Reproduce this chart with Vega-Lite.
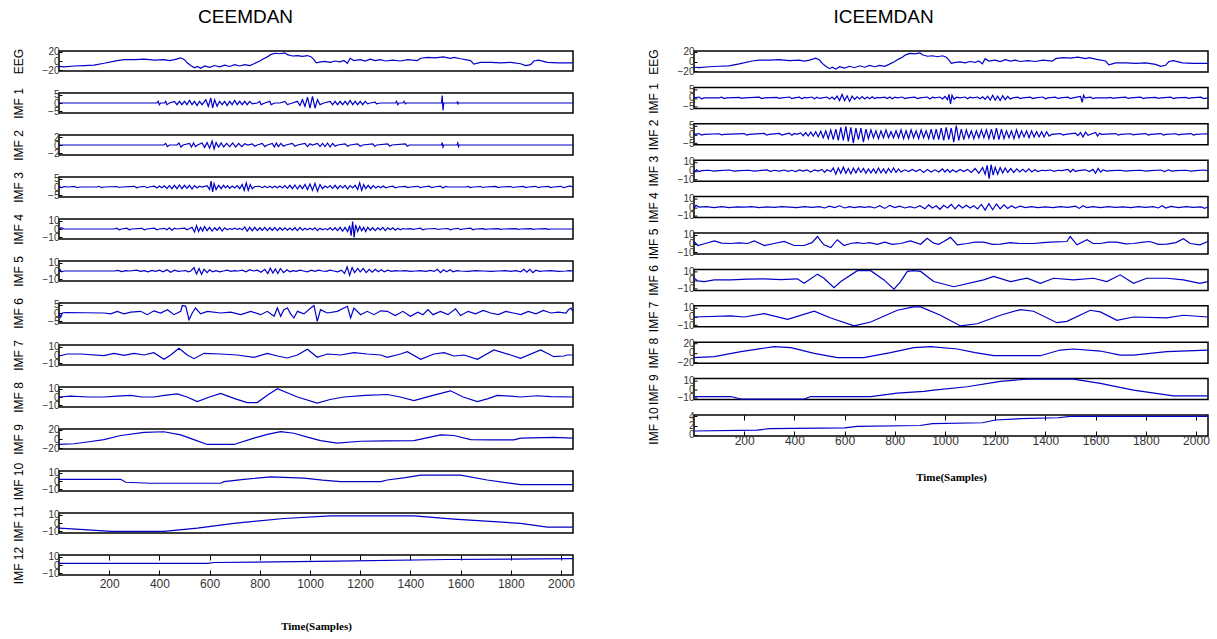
{
"$schema": "https://vega.github.io/schema/vega-lite/v6.json",
"background": "white",
"padding": {"left": 11, "top": 8, "right": 5, "bottom": 5},
"config": {
  "view": {"stroke": "#000", "strokeWidth": 1.5, "continuousWidth": 514},
  "line": {"color": "#0000c8", "strokeWidth": 1.2},
  "axisY": {"labelFont": "Liberation Sans", "labelFontSize": 10, "labelColor": "#333", "labelOverlap": false, "labelFlush": false, "tickSize": -3, "tickColor": "#000", "domain": false, "grid": false, "titleFont": "Liberation Sans", "titleFontSize": 12, "titleFontWeight": "normal", "titleColor": "#000", "minExtent": 20, "maxExtent": 20, "titlePadding": 14, "labelPadding": 3},
  "axisX": {"labelFont": "Liberation Sans", "labelFontSize": 12, "labelColor": "#333", "labelOverlap": false, "labelFlush": false, "tickColor": "#000", "domain": false, "grid": false, "format": "d", "titleFont": "Liberation Serif", "titleFontSize": 11, "titleFontWeight": "bold", "titleColor": "#000"},
  "title": {"font": "Liberation Sans", "fontSize": 19, "fontWeight": "normal", "color": "#000"}
},
"datasets": {
"EEG": [{"x":0,"y":-12},{"x":20,"y":-13},{"x":60,"y":-11},{"x":100,"y":-10},{"x":139,"y":-9},{"x":180,"y":-5},{"x":232,"y":1},{"x":260,"y":3},{"x":300,"y":3},{"x":340,"y":4},{"x":380,"y":2},{"x":418,"y":3},{"x":440,"y":1},{"x":460,"y":3},{"x":485,"y":7},{"x":500,"y":3},{"x":511,"y":-4},{"x":525,"y":-10},{"x":540,"y":-15},{"x":551,"y":-12},{"x":565,"y":-16},{"x":580,"y":-11},{"x":600,"y":-14},{"x":620,"y":-10},{"x":640,"y":-13},{"x":660,"y":-9},{"x":680,"y":-12},{"x":700,"y":-8},{"x":720,"y":-11},{"x":740,"y":-8},{"x":760,"y":-10},{"x":777,"y":-6},{"x":800,"y":0},{"x":815,"y":5},{"x":830,"y":9},{"x":843,"y":14},{"x":860,"y":17},{"x":880,"y":16},{"x":900,"y":18},{"x":910,"y":14},{"x":930,"y":11},{"x":950,"y":12},{"x":970,"y":10},{"x":990,"y":12},{"x":1005,"y":9},{"x":1016,"y":3},{"x":1025,"y":-4},{"x":1042,"y":-2},{"x":1060,"y":-1},{"x":1080,"y":-3},{"x":1100,"y":0},{"x":1120,"y":-2},{"x":1135,"y":1},{"x":1149,"y":-5},{"x":1160,"y":6},{"x":1175,"y":1},{"x":1200,"y":3},{"x":1220,"y":0},{"x":1240,"y":4},{"x":1260,"y":1},{"x":1280,"y":3},{"x":1300,"y":0},{"x":1330,"y":2},{"x":1360,"y":0},{"x":1390,"y":3},{"x":1428,"y":1},{"x":1441,"y":6},{"x":1470,"y":8},{"x":1500,"y":7},{"x":1530,"y":9},{"x":1560,"y":6},{"x":1574,"y":8},{"x":1600,"y":5},{"x":1640,"y":1},{"x":1653,"y":-7},{"x":1680,"y":-3},{"x":1720,"y":-3},{"x":1760,"y":-4},{"x":1800,"y":-3},{"x":1839,"y":-6},{"x":1860,"y":-10},{"x":1879,"y":-8},{"x":1892,"y":0},{"x":1910,"y":2},{"x":1946,"y":-3},{"x":1990,"y":-4},{"x":2047,"y":-4}],
"L1": [{"x":0,"y":0},{"x":390,"y":0},{"x":395,"y":1},{"x":400,"y":-1},{"x":405,"y":0},{"x":420,"y":0},{"x":425,"y":1},{"x":430,"y":-1},{"x":440,"y":0},{"x":460,"y":1},{"x":470,"y":-1},{"x":480,"y":1},{"x":490,"y":-1},{"x":500,"y":1},{"x":510,"y":-1},{"x":520,"y":1.5},{"x":530,"y":-1},{"x":540,"y":1},{"x":550,"y":-1.5},{"x":560,"y":1},{"x":570,"y":-1},{"x":585,"y":2},{"x":595,"y":-2},{"x":605,"y":3},{"x":612,"y":-3},{"x":620,"y":2},{"x":630,"y":-2},{"x":640,"y":1},{"x":650,"y":-1},{"x":660,"y":1},{"x":670,"y":-1.5},{"x":680,"y":1},{"x":690,"y":-1},{"x":700,"y":1.5},{"x":710,"y":-1},{"x":720,"y":1},{"x":730,"y":-1},{"x":740,"y":1},{"x":750,"y":-1},{"x":760,"y":1},{"x":770,"y":-0.5},{"x":790,"y":0},{"x":800,"y":1},{"x":805,"y":-1},{"x":820,"y":0},{"x":840,"y":1},{"x":845,"y":-1},{"x":860,"y":0},{"x":880,"y":0},{"x":900,"y":1},{"x":910,"y":-1},{"x":930,"y":0},{"x":950,"y":1},{"x":960,"y":-1.5},{"x":970,"y":2},{"x":980,"y":-2},{"x":990,"y":3.5},{"x":1000,"y":-3},{"x":1010,"y":4},{"x":1020,"y":-3},{"x":1030,"y":2},{"x":1040,"y":-1},{"x":1055,"y":0},{"x":1080,"y":1},{"x":1090,"y":-1},{"x":1100,"y":1},{"x":1110,"y":-1},{"x":1120,"y":1},{"x":1130,"y":-1},{"x":1140,"y":1},{"x":1150,"y":-1},{"x":1160,"y":1.5},{"x":1170,"y":-1},{"x":1180,"y":1},{"x":1190,"y":-1},{"x":1200,"y":1},{"x":1210,"y":-1},{"x":1220,"y":1},{"x":1230,"y":-0.5},{"x":1240,"y":0},{"x":1260,"y":0.5},{"x":1265,"y":-0.5},{"x":1280,"y":0},{"x":1340,"y":0},{"x":1345,"y":1},{"x":1350,"y":-1},{"x":1355,"y":0},{"x":1370,"y":0},{"x":1375,"y":1},{"x":1380,"y":-0.5},{"x":1385,"y":0},{"x":1524,"y":0},{"x":1527,"y":4.5},{"x":1530,"y":-4.5},{"x":1533,"y":0},{"x":1586,"y":0},{"x":1588,"y":1},{"x":1590,"y":-0.5},{"x":1592,"y":0},{"x":2047,"y":0}],
"L2": [{"x":0,"y":0},{"x":418,"y":0},{"x":425,"y":0.4},{"x":432,"y":-0.4},{"x":440,"y":0},{"x":470,"y":0},{"x":478,"y":0.5},{"x":486,"y":-0.5},{"x":494,"y":0},{"x":520,"y":0.4},{"x":528,"y":-0.5},{"x":536,"y":0.5},{"x":544,"y":-0.4},{"x":552,"y":0},{"x":570,"y":0.5},{"x":580,"y":-0.6},{"x":590,"y":0.6},{"x":600,"y":-0.8},{"x":610,"y":1},{"x":618,"y":-1},{"x":626,"y":0.6},{"x":636,"y":-0.5},{"x":646,"y":0.5},{"x":656,"y":-0.5},{"x":668,"y":0.4},{"x":680,"y":-0.4},{"x":692,"y":0.5},{"x":704,"y":-0.5},{"x":716,"y":0.4},{"x":728,"y":-0.4},{"x":740,"y":0.3},{"x":752,"y":0},{"x":770,"y":0.3},{"x":780,"y":-0.3},{"x":790,"y":0},{"x":810,"y":0.4},{"x":820,"y":-0.4},{"x":830,"y":0},{"x":850,"y":0.4},{"x":858,"y":-0.5},{"x":866,"y":0.5},{"x":874,"y":-0.4},{"x":884,"y":0.4},{"x":894,"y":-0.3},{"x":904,"y":0},{"x":930,"y":0.4},{"x":940,"y":-0.3},{"x":950,"y":0},{"x":980,"y":0.4},{"x":990,"y":-0.4},{"x":1000,"y":0.3},{"x":1010,"y":0},{"x":1030,"y":0.4},{"x":1040,"y":-0.4},{"x":1050,"y":0.4},{"x":1060,"y":-0.4},{"x":1070,"y":0.5},{"x":1080,"y":-0.5},{"x":1090,"y":0.4},{"x":1100,"y":-0.3},{"x":1110,"y":0},{"x":1140,"y":0.3},{"x":1150,"y":-0.3},{"x":1160,"y":0},{"x":1190,"y":0.3},{"x":1200,"y":-0.3},{"x":1210,"y":0},{"x":1250,"y":0.3},{"x":1258,"y":-0.3},{"x":1266,"y":0},{"x":1310,"y":0.3},{"x":1318,"y":-0.3},{"x":1326,"y":0},{"x":1380,"y":0.3},{"x":1388,"y":-0.3},{"x":1396,"y":0},{"x":1524,"y":0},{"x":1527,"y":0.6},{"x":1530,"y":-0.5},{"x":1533,"y":0},{"x":1586,"y":0},{"x":1589,"y":0.5},{"x":1592,"y":-0.4},{"x":1595,"y":0},{"x":2047,"y":0}],
"L3": [{"x":0,"y":0.5},{"x":10,"y":-0.5},{"x":20,"y":0.3},{"x":40,"y":0},{"x":60,"y":0.4},{"x":70,"y":-0.3},{"x":90,"y":0},{"x":150,"y":0},{"x":160,"y":0.4},{"x":170,"y":-0.4},{"x":180,"y":0},{"x":230,"y":0.3},{"x":240,"y":-0.3},{"x":250,"y":0},{"x":300,"y":0.4},{"x":310,"y":-0.5},{"x":320,"y":0},{"x":340,"y":0.4},{"x":350,"y":-0.4},{"x":360,"y":0},{"x":380,"y":0.5},{"x":390,"y":-0.6},{"x":400,"y":0.6},{"x":410,"y":-0.5},{"x":420,"y":0.7},{"x":430,"y":-0.8},{"x":440,"y":0.8},{"x":450,"y":-1},{"x":460,"y":1},{"x":470,"y":-1},{"x":480,"y":1.2},{"x":490,"y":-1},{"x":500,"y":1},{"x":510,"y":-0.8},{"x":520,"y":1},{"x":530,"y":-1.2},{"x":540,"y":0.8},{"x":550,"y":-0.6},{"x":560,"y":0.5},{"x":570,"y":0},{"x":590,"y":0.8},{"x":600,"y":-1.5},{"x":606,"y":3.5},{"x":612,"y":-3},{"x":618,"y":2},{"x":626,"y":-1.5},{"x":636,"y":1},{"x":646,"y":-1},{"x":656,"y":1},{"x":664,"y":-0.5},{"x":672,"y":0.8},{"x":680,"y":-0.8},{"x":690,"y":0.6},{"x":700,"y":-0.6},{"x":710,"y":0.8},{"x":720,"y":-1},{"x":730,"y":1.5},{"x":738,"y":-2},{"x":746,"y":2.5},{"x":754,"y":-2},{"x":762,"y":1.5},{"x":770,"y":-1},{"x":780,"y":0.3},{"x":800,"y":0.4},{"x":810,"y":-0.4},{"x":820,"y":0.5},{"x":830,"y":-0.4},{"x":840,"y":0.5},{"x":850,"y":-0.5},{"x":860,"y":0.5},{"x":870,"y":-0.5},{"x":880,"y":0.6},{"x":890,"y":-0.6},{"x":900,"y":0.8},{"x":910,"y":-0.8},{"x":920,"y":1},{"x":930,"y":-1},{"x":940,"y":1.2},{"x":950,"y":-1.2},{"x":960,"y":1},{"x":970,"y":-1},{"x":980,"y":1.5},{"x":990,"y":-1.5},{"x":1000,"y":1.8},{"x":1010,"y":-2},{"x":1020,"y":2.2},{"x":1030,"y":-2.5},{"x":1040,"y":1.5},{"x":1050,"y":-1},{"x":1060,"y":0.6},{"x":1070,"y":-0.5},{"x":1080,"y":0.8},{"x":1090,"y":-0.8},{"x":1100,"y":1},{"x":1110,"y":-1},{"x":1120,"y":0.8},{"x":1130,"y":-0.6},{"x":1140,"y":1},{"x":1150,"y":-1.2},{"x":1160,"y":0.8},{"x":1170,"y":-0.5},{"x":1180,"y":1},{"x":1190,"y":-1.5},{"x":1198,"y":2.5},{"x":1206,"y":-2},{"x":1214,"y":1.5},{"x":1222,"y":-1},{"x":1232,"y":1},{"x":1242,"y":-1},{"x":1252,"y":0.8},{"x":1262,"y":-0.6},{"x":1272,"y":0.5},{"x":1282,"y":-0.5},{"x":1292,"y":0.6},{"x":1302,"y":-0.5},{"x":1312,"y":0},{"x":1330,"y":0.5},{"x":1340,"y":-0.5},{"x":1350,"y":0},{"x":1380,"y":0.4},{"x":1390,"y":-0.3},{"x":1400,"y":0},{"x":1430,"y":0.4},{"x":1440,"y":-0.4},{"x":1450,"y":0},{"x":1475,"y":0.5},{"x":1485,"y":-0.4},{"x":1495,"y":0},{"x":1520,"y":0.5},{"x":1530,"y":-0.6},{"x":1540,"y":0.4},{"x":1550,"y":0},{"x":1620,"y":0},{"x":1630,"y":0.4},{"x":1640,"y":-0.3},{"x":1650,"y":0},{"x":1680,"y":0.3},{"x":1690,"y":-0.3},{"x":1700,"y":0},{"x":1740,"y":0.4},{"x":1750,"y":-0.3},{"x":1760,"y":0},{"x":1800,"y":0.3},{"x":1810,"y":-0.3},{"x":1820,"y":0},{"x":1850,"y":0.4},{"x":1860,"y":-0.3},{"x":1870,"y":0},{"x":1900,"y":0.4},{"x":1910,"y":-0.4},{"x":1920,"y":0},{"x":1950,"y":0.4},{"x":1960,"y":-0.3},{"x":1970,"y":0},{"x":2000,"y":0.4},{"x":2010,"y":-0.4},{"x":2020,"y":0},{"x":2035,"y":0.6},{"x":2047,"y":0}],
"L4": [{"x":0,"y":0},{"x":10,"y":1.5},{"x":20,"y":0},{"x":220,"y":0},{"x":230,"y":1},{"x":240,"y":-1},{"x":250,"y":0},{"x":270,"y":1},{"x":280,"y":-1},{"x":290,"y":0},{"x":330,"y":0.8},{"x":340,"y":-1},{"x":350,"y":0},{"x":380,"y":1},{"x":390,"y":-1},{"x":400,"y":0},{"x":420,"y":0.8},{"x":430,"y":-0.8},{"x":440,"y":1.5},{"x":450,"y":-1.5},{"x":460,"y":1},{"x":470,"y":0},{"x":500,"y":1},{"x":510,"y":-1},{"x":520,"y":0.5},{"x":530,"y":2},{"x":540,"y":-3.5},{"x":548,"y":4},{"x":556,"y":-3},{"x":564,"y":2},{"x":572,"y":-2.5},{"x":580,"y":3},{"x":590,"y":-2},{"x":600,"y":2},{"x":610,"y":-2.5},{"x":620,"y":1.5},{"x":630,"y":-1.5},{"x":640,"y":2},{"x":650,"y":-2.5},{"x":660,"y":1.5},{"x":670,"y":-1},{"x":680,"y":0.5},{"x":690,"y":-0.5},{"x":700,"y":1},{"x":710,"y":-0.5},{"x":720,"y":0.8},{"x":730,"y":-0.8},{"x":740,"y":2.5},{"x":750,"y":-2.5},{"x":760,"y":2},{"x":770,"y":-2},{"x":780,"y":2},{"x":790,"y":-2},{"x":800,"y":1.5},{"x":810,"y":-1.5},{"x":820,"y":2},{"x":830,"y":-2},{"x":840,"y":1.5},{"x":850,"y":-1.5},{"x":860,"y":2},{"x":870,"y":-2},{"x":880,"y":1.5},{"x":890,"y":-1.5},{"x":900,"y":1.5},{"x":910,"y":-1.5},{"x":920,"y":1.2},{"x":930,"y":-1.5},{"x":940,"y":1.5},{"x":950,"y":-2},{"x":960,"y":2},{"x":970,"y":-1.5},{"x":980,"y":1},{"x":990,"y":-1},{"x":1000,"y":1},{"x":1010,"y":-1},{"x":1020,"y":1.5},{"x":1030,"y":-2},{"x":1040,"y":1},{"x":1050,"y":-1},{"x":1060,"y":0.5},{"x":1070,"y":-1},{"x":1080,"y":1.5},{"x":1090,"y":-1.5},{"x":1100,"y":1.5},{"x":1110,"y":-2},{"x":1120,"y":2},{"x":1130,"y":-2.5},{"x":1140,"y":2},{"x":1150,"y":-3},{"x":1158,"y":4},{"x":1164,"y":-8},{"x":1170,"y":9},{"x":1176,"y":-10},{"x":1182,"y":5},{"x":1190,"y":-3},{"x":1198,"y":3},{"x":1206,"y":-2},{"x":1214,"y":2},{"x":1222,"y":-3},{"x":1230,"y":2},{"x":1240,"y":-1.5},{"x":1250,"y":1.5},{"x":1260,"y":-2},{"x":1270,"y":1.5},{"x":1280,"y":-1},{"x":1290,"y":2},{"x":1300,"y":-2},{"x":1310,"y":1.5},{"x":1320,"y":-1},{"x":1330,"y":1.5},{"x":1340,"y":-1.5},{"x":1350,"y":1},{"x":1360,"y":-1},{"x":1370,"y":0.5},{"x":1380,"y":0},{"x":1400,"y":0.5},{"x":1410,"y":-0.5},{"x":1420,"y":0},{"x":1440,"y":1},{"x":1450,"y":-1},{"x":1460,"y":0},{"x":1500,"y":0.6},{"x":1510,"y":-0.6},{"x":1520,"y":0},{"x":1550,"y":0.6},{"x":1560,"y":-1},{"x":1570,"y":0},{"x":1590,"y":0.8},{"x":1600,"y":-0.8},{"x":1610,"y":0},{"x":1640,"y":1},{"x":1650,"y":-1},{"x":1660,"y":0},{"x":1690,"y":0.5},{"x":1700,"y":-0.5},{"x":1710,"y":0},{"x":1750,"y":0.5},{"x":1760,"y":-0.5},{"x":1770,"y":0},{"x":1820,"y":0.5},{"x":1830,"y":-0.5},{"x":1840,"y":0},{"x":1880,"y":0.5},{"x":1890,"y":-0.5},{"x":1900,"y":0},{"x":1940,"y":0.5},{"x":1950,"y":-0.5},{"x":1960,"y":0},{"x":2047,"y":0}],
"L5": [{"x":0,"y":0},{"x":5,"y":1.5},{"x":10,"y":-1},{"x":20,"y":0},{"x":220,"y":0},{"x":235,"y":0.8},{"x":250,"y":-0.8},{"x":265,"y":0.5},{"x":280,"y":0},{"x":310,"y":1},{"x":325,"y":-0.5},{"x":340,"y":0.5},{"x":355,"y":-1},{"x":370,"y":0.8},{"x":385,"y":-0.5},{"x":400,"y":1},{"x":415,"y":-1},{"x":430,"y":1.5},{"x":445,"y":-1.5},{"x":460,"y":1},{"x":475,"y":-0.5},{"x":490,"y":0},{"x":505,"y":0.5},{"x":515,"y":-1},{"x":525,"y":0},{"x":538,"y":4},{"x":548,"y":-3.5},{"x":558,"y":3},{"x":568,"y":-4},{"x":578,"y":2},{"x":590,"y":-2},{"x":600,"y":1.5},{"x":612,"y":-1},{"x":625,"y":0.5},{"x":640,"y":-1},{"x":655,"y":0},{"x":670,"y":1},{"x":685,"y":-0.5},{"x":700,"y":0.5},{"x":715,"y":0},{"x":730,"y":1},{"x":745,"y":-1},{"x":760,"y":1.5},{"x":775,"y":0},{"x":790,"y":1},{"x":805,"y":-1.5},{"x":820,"y":2},{"x":832,"y":-3},{"x":842,"y":3.5},{"x":852,"y":-2.5},{"x":862,"y":2.5},{"x":872,"y":-3},{"x":882,"y":3},{"x":895,"y":-2},{"x":908,"y":1.5},{"x":920,"y":-1},{"x":932,"y":0.5},{"x":945,"y":-0.5},{"x":960,"y":1},{"x":975,"y":0},{"x":990,"y":-1},{"x":1005,"y":1},{"x":1020,"y":-0.5},{"x":1035,"y":1},{"x":1050,"y":0},{"x":1065,"y":-0.5},{"x":1080,"y":1},{"x":1095,"y":0},{"x":1110,"y":-1},{"x":1125,"y":1},{"x":1138,"y":-3},{"x":1148,"y":5},{"x":1158,"y":-5},{"x":1168,"y":4},{"x":1178,"y":-2},{"x":1190,"y":3},{"x":1200,"y":-1},{"x":1212,"y":3},{"x":1224,"y":-2},{"x":1236,"y":2},{"x":1248,"y":-1.5},{"x":1260,"y":2},{"x":1272,"y":-1},{"x":1284,"y":1.5},{"x":1296,"y":-1},{"x":1310,"y":1},{"x":1325,"y":-0.5},{"x":1340,"y":0.5},{"x":1360,"y":0},{"x":1380,"y":0.5},{"x":1400,"y":-0.5},{"x":1420,"y":0},{"x":1440,"y":0.5},{"x":1460,"y":-0.5},{"x":1480,"y":0.8},{"x":1495,"y":-0.5},{"x":1508,"y":2},{"x":1520,"y":-2},{"x":1532,"y":1.5},{"x":1545,"y":-1},{"x":1558,"y":1.5},{"x":1570,"y":-1},{"x":1585,"y":0.5},{"x":1600,"y":0},{"x":1630,"y":-0.5},{"x":1660,"y":0.5},{"x":1690,"y":0},{"x":1720,"y":-0.5},{"x":1750,"y":0},{"x":1780,"y":0.5},{"x":1800,"y":-0.5},{"x":1820,"y":0.5},{"x":1840,"y":-1},{"x":1852,"y":2},{"x":1864,"y":-1.5},{"x":1876,"y":2},{"x":1888,"y":-2},{"x":1900,"y":1},{"x":1915,"y":-0.5},{"x":1930,"y":0},{"x":1960,"y":0.5},{"x":1990,"y":-0.5},{"x":2020,"y":0},{"x":2035,"y":0.5},{"x":2047,"y":0}],
"L6": [{"x":0,"y":0},{"x":7,"y":-2.5},{"x":13,"y":0},{"x":27,"y":0.3},{"x":179,"y":0},{"x":206,"y":-0.5},{"x":232,"y":1},{"x":259,"y":-0.5},{"x":286,"y":0.5},{"x":325,"y":1},{"x":352,"y":-1},{"x":378,"y":1.3},{"x":405,"y":0},{"x":432,"y":2},{"x":458,"y":-1},{"x":485,"y":1},{"x":491,"y":4.5},{"x":505,"y":4},{"x":518,"y":-4},{"x":531,"y":0},{"x":544,"y":3},{"x":564,"y":-0.5},{"x":591,"y":1},{"x":644,"y":0},{"x":684,"y":0.5},{"x":724,"y":-1},{"x":764,"y":1},{"x":803,"y":-1},{"x":830,"y":1},{"x":857,"y":-2},{"x":870,"y":3},{"x":883,"y":-2},{"x":896,"y":2},{"x":910,"y":3},{"x":923,"y":-0.5},{"x":936,"y":-3},{"x":950,"y":1},{"x":976,"y":-0.5},{"x":1003,"y":3},{"x":1016,"y":4.5},{"x":1029,"y":-5},{"x":1042,"y":2},{"x":1069,"y":0},{"x":1109,"y":1},{"x":1149,"y":4},{"x":1162,"y":-3},{"x":1175,"y":3},{"x":1202,"y":-1},{"x":1228,"y":1},{"x":1255,"y":-1},{"x":1282,"y":1.3},{"x":1308,"y":1},{"x":1340,"y":-1.5},{"x":1370,"y":1},{"x":1400,"y":-2},{"x":1430,"y":0.5},{"x":1450,"y":-1},{"x":1470,"y":2},{"x":1490,"y":-1},{"x":1520,"y":1},{"x":1550,"y":-1},{"x":1580,"y":2.5},{"x":1600,"y":-1.5},{"x":1630,"y":1},{"x":1660,"y":-0.5},{"x":1690,"y":1.5},{"x":1720,"y":0},{"x":1750,"y":-1},{"x":1780,"y":1},{"x":1810,"y":0},{"x":1840,"y":-1},{"x":1870,"y":1},{"x":1900,"y":-0.5},{"x":1930,"y":1.5},{"x":1960,"y":0},{"x":1990,"y":0.5},{"x":2020,"y":0},{"x":2030,"y":2},{"x":2040,"y":3},{"x":2047,"y":1}],
"L7": [{"x":0,"y":-1.2},{"x":33,"y":1.2},{"x":86,"y":1.2},{"x":179,"y":-0.8},{"x":219,"y":2},{"x":259,"y":-0.4},{"x":299,"y":2},{"x":339,"y":0},{"x":378,"y":2.8},{"x":418,"y":-5.2},{"x":445,"y":0},{"x":478,"y":8},{"x":511,"y":0},{"x":538,"y":-4.4},{"x":578,"y":2},{"x":644,"y":1.2},{"x":710,"y":0},{"x":777,"y":-2.8},{"x":830,"y":2},{"x":870,"y":-1.2},{"x":910,"y":-3.6},{"x":950,"y":0},{"x":990,"y":6.8},{"x":1029,"y":-2.8},{"x":1069,"y":1.2},{"x":1122,"y":0},{"x":1175,"y":2.8},{"x":1228,"y":1.2},{"x":1282,"y":0},{"x":1308,"y":-2.8},{"x":1361,"y":1.2},{"x":1388,"y":4},{"x":1441,"y":-5.2},{"x":1494,"y":1.2},{"x":1534,"y":2.8},{"x":1574,"y":-1.2},{"x":1614,"y":0},{"x":1667,"y":-5.2},{"x":1733,"y":6},{"x":1800,"y":0},{"x":1839,"y":-4},{"x":1919,"y":6},{"x":1972,"y":-2},{"x":2012,"y":-1.2},{"x":2025,"y":0},{"x":2047,"y":0}],
"L8": [{"x":0,"y":0},{"x":46,"y":1},{"x":120,"y":0},{"x":179,"y":0},{"x":230,"y":1},{"x":286,"y":2},{"x":330,"y":0},{"x":378,"y":0},{"x":420,"y":2},{"x":471,"y":3.7},{"x":510,"y":0},{"x":551,"y":-5.5},{"x":600,"y":0},{"x":644,"y":4.4},{"x":700,"y":-2},{"x":750,"y":-6.7},{"x":790,"y":-6.7},{"x":830,"y":2},{"x":870,"y":10},{"x":950,"y":0},{"x":1029,"y":-7.4},{"x":1080,"y":-3},{"x":1135,"y":0},{"x":1220,"y":2},{"x":1308,"y":3},{"x":1360,"y":0},{"x":1414,"y":-4.4},{"x":1490,"y":2},{"x":1560,"y":7.4},{"x":1610,"y":0},{"x":1667,"y":-5.5},{"x":1710,"y":-2},{"x":1746,"y":2},{"x":1800,"y":1},{"x":1839,"y":0},{"x":1906,"y":1.5},{"x":1960,"y":0.5},{"x":2047,"y":0}],
"L9": [{"x":0,"y":-12},{"x":60,"y":-10.5},{"x":120,"y":-6},{"x":179,"y":-1.4},{"x":246,"y":7.7},{"x":339,"y":14.7},{"x":418,"y":16},{"x":485,"y":9},{"x":540,"y":-2},{"x":591,"y":-12},{"x":697,"y":-12},{"x":777,"y":2},{"x":830,"y":10},{"x":883,"y":16},{"x":936,"y":12.6},{"x":990,"y":4},{"x":1042,"y":-3.5},{"x":1109,"y":-9},{"x":1202,"y":-5},{"x":1300,"y":-4},{"x":1414,"y":-3.5},{"x":1470,"y":3},{"x":1521,"y":9},{"x":1574,"y":7.7},{"x":1640,"y":-1.4},{"x":1720,"y":-2},{"x":1813,"y":-2},{"x":1839,"y":2},{"x":1972,"y":3.5},{"x":2047,"y":2}],
"L10": [{"x":0,"y":2},{"x":246,"y":2},{"x":266,"y":-1.5},{"x":365,"y":-2.7},{"x":644,"y":-2.7},{"x":657,"y":-0.8},{"x":737,"y":1.9},{"x":843,"y":5},{"x":976,"y":3.5},{"x":1050,"y":1},{"x":1122,"y":-0.8},{"x":1282,"y":-0.8},{"x":1308,"y":1.2},{"x":1380,"y":4},{"x":1441,"y":7},{"x":1600,"y":7},{"x":1706,"y":1.2},{"x":1780,"y":-2},{"x":1839,"y":-4.3},{"x":2047,"y":-4.3}],
"L11": [{"x":0,"y":-6.2},{"x":100,"y":-8},{"x":206,"y":-10},{"x":418,"y":-10},{"x":551,"y":-6.2},{"x":697,"y":-0.4},{"x":896,"y":5.4},{"x":1082,"y":8.5},{"x":1414,"y":8.5},{"x":1574,"y":4.6},{"x":1839,"y":-0.4},{"x":1946,"y":-5},{"x":2047,"y":-5}],
"L12": [{"x":0,"y":2},{"x":591,"y":2},{"x":618,"y":3},{"x":1109,"y":4.6},{"x":1547,"y":6.6},{"x":2047,"y":7.7}],
"R1": [{"x":0,"y":0},{"x":20,"y":0.5},{"x":30,"y":-0.5},{"x":40,"y":0},{"x":100,"y":0},{"x":110,"y":0.4},{"x":120,"y":-0.4},{"x":130,"y":0},{"x":180,"y":0.3},{"x":190,"y":-0.3},{"x":200,"y":0},{"x":260,"y":0.4},{"x":270,"y":-0.4},{"x":280,"y":0},{"x":330,"y":0.3},{"x":340,"y":-0.3},{"x":350,"y":0},{"x":380,"y":0.5},{"x":390,"y":-0.4},{"x":400,"y":0},{"x":420,"y":0.4},{"x":430,"y":-0.5},{"x":440,"y":0.3},{"x":450,"y":0},{"x":470,"y":0.5},{"x":480,"y":-0.5},{"x":490,"y":0.4},{"x":500,"y":-0.3},{"x":510,"y":0},{"x":530,"y":0.5},{"x":540,"y":-0.6},{"x":550,"y":0.5},{"x":560,"y":-0.8},{"x":570,"y":1},{"x":580,"y":-1.5},{"x":590,"y":2},{"x":600,"y":-1.5},{"x":610,"y":1.2},{"x":620,"y":-2},{"x":630,"y":1},{"x":640,"y":-0.8},{"x":650,"y":0.6},{"x":660,"y":-0.6},{"x":670,"y":0.8},{"x":680,"y":-0.6},{"x":690,"y":0.5},{"x":700,"y":-0.5},{"x":710,"y":0.6},{"x":720,"y":-0.4},{"x":730,"y":0.3},{"x":740,"y":0},{"x":760,"y":0.4},{"x":770,"y":-0.4},{"x":780,"y":0.5},{"x":790,"y":-0.5},{"x":800,"y":0.4},{"x":810,"y":0},{"x":830,"y":0.5},{"x":840,"y":-0.4},{"x":850,"y":0},{"x":880,"y":0.4},{"x":890,"y":-0.4},{"x":900,"y":0},{"x":930,"y":0.5},{"x":940,"y":-0.6},{"x":950,"y":0.4},{"x":960,"y":0},{"x":980,"y":0.5},{"x":990,"y":-0.6},{"x":1000,"y":0.8},{"x":1010,"y":-1},{"x":1016,"y":2},{"x":1022,"y":-3.5},{"x":1028,"y":1.5},{"x":1036,"y":-0.8},{"x":1046,"y":0.4},{"x":1060,"y":0},{"x":1080,"y":0.5},{"x":1090,"y":-0.5},{"x":1100,"y":0.4},{"x":1110,"y":0},{"x":1130,"y":0.5},{"x":1140,"y":-0.5},{"x":1150,"y":0.6},{"x":1160,"y":-0.8},{"x":1170,"y":1},{"x":1180,"y":-1.2},{"x":1190,"y":1.5},{"x":1200,"y":-1.2},{"x":1210,"y":1},{"x":1220,"y":-1.5},{"x":1230,"y":1.2},{"x":1240,"y":-1},{"x":1250,"y":0.8},{"x":1260,"y":-0.6},{"x":1270,"y":0},{"x":1290,"y":0.4},{"x":1300,"y":-0.4},{"x":1310,"y":0},{"x":1340,"y":0.4},{"x":1350,"y":-0.4},{"x":1360,"y":0},{"x":1390,"y":0.5},{"x":1400,"y":-0.5},{"x":1410,"y":0},{"x":1440,"y":0.4},{"x":1450,"y":-0.3},{"x":1460,"y":0},{"x":1490,"y":0.4},{"x":1500,"y":-0.4},{"x":1510,"y":0},{"x":1540,"y":0.8},{"x":1547,"y":-2.5},{"x":1552,"y":1.5},{"x":1558,"y":0},{"x":1580,"y":0.4},{"x":1590,"y":-0.4},{"x":1600,"y":0},{"x":1650,"y":0},{"x":1660,"y":0.3},{"x":1670,"y":-0.3},{"x":1680,"y":0},{"x":1720,"y":0.4},{"x":1730,"y":-0.3},{"x":1740,"y":0},{"x":1780,"y":0.4},{"x":1790,"y":-0.4},{"x":1800,"y":0},{"x":1840,"y":0.3},{"x":1850,"y":-0.3},{"x":1860,"y":0},{"x":1900,"y":0.4},{"x":1910,"y":-0.4},{"x":1920,"y":0},{"x":1960,"y":0.3},{"x":1970,"y":-0.3},{"x":1980,"y":0},{"x":2020,"y":0.4},{"x":2030,"y":-0.4},{"x":2047,"y":0}],
"R2": [{"x":0,"y":0},{"x":20,"y":0.4},{"x":30,"y":-0.4},{"x":40,"y":0},{"x":100,"y":0.3},{"x":110,"y":-0.3},{"x":120,"y":0},{"x":200,"y":0.4},{"x":210,"y":-0.4},{"x":220,"y":0},{"x":280,"y":0.5},{"x":290,"y":-0.5},{"x":300,"y":0},{"x":340,"y":0.5},{"x":350,"y":-0.4},{"x":360,"y":0},{"x":380,"y":0.6},{"x":390,"y":-0.6},{"x":400,"y":0.5},{"x":410,"y":0},{"x":425,"y":0.8},{"x":435,"y":-0.8},{"x":445,"y":1},{"x":455,"y":-1},{"x":465,"y":1.2},{"x":475,"y":-1},{"x":485,"y":1.5},{"x":495,"y":-1.5},{"x":505,"y":1.8},{"x":515,"y":-2},{"x":525,"y":2},{"x":535,"y":-2.5},{"x":545,"y":2.5},{"x":555,"y":-3},{"x":565,"y":3},{"x":575,"y":-3.5},{"x":585,"y":4},{"x":595,"y":-3.5},{"x":605,"y":4.5},{"x":615,"y":-4},{"x":625,"y":4},{"x":635,"y":-5},{"x":645,"y":3.5},{"x":655,"y":-3},{"x":665,"y":3.5},{"x":675,"y":-4.5},{"x":685,"y":3},{"x":695,"y":-2.5},{"x":705,"y":2.5},{"x":715,"y":-2},{"x":725,"y":2},{"x":735,"y":-2.5},{"x":745,"y":2},{"x":755,"y":-2},{"x":765,"y":2.5},{"x":775,"y":-2},{"x":785,"y":1.5},{"x":795,"y":-2},{"x":805,"y":2},{"x":815,"y":-2},{"x":825,"y":2.5},{"x":835,"y":-2.5},{"x":845,"y":2},{"x":855,"y":-2.5},{"x":865,"y":2.5},{"x":875,"y":-2},{"x":885,"y":2},{"x":895,"y":-2.5},{"x":905,"y":2.5},{"x":915,"y":-2},{"x":925,"y":2},{"x":935,"y":-2.5},{"x":945,"y":3},{"x":955,"y":-3},{"x":965,"y":3},{"x":975,"y":-3},{"x":985,"y":3.5},{"x":995,"y":-3.5},{"x":1005,"y":4},{"x":1015,"y":-3},{"x":1025,"y":3.5},{"x":1035,"y":-4.5},{"x":1045,"y":5},{"x":1055,"y":-3.5},{"x":1065,"y":3},{"x":1075,"y":-3},{"x":1085,"y":2.5},{"x":1095,"y":-2},{"x":1105,"y":2},{"x":1115,"y":-2.5},{"x":1125,"y":2},{"x":1135,"y":-2},{"x":1145,"y":2.5},{"x":1155,"y":-2},{"x":1165,"y":2.5},{"x":1175,"y":-2.5},{"x":1185,"y":3},{"x":1195,"y":-3},{"x":1205,"y":3.5},{"x":1215,"y":-3},{"x":1225,"y":3},{"x":1235,"y":-2.5},{"x":1245,"y":2},{"x":1255,"y":-2},{"x":1265,"y":2},{"x":1275,"y":-2.5},{"x":1285,"y":2.5},{"x":1295,"y":-2},{"x":1305,"y":2},{"x":1315,"y":-1.5},{"x":1325,"y":2},{"x":1335,"y":-2},{"x":1345,"y":2},{"x":1355,"y":-1.5},{"x":1365,"y":1.5},{"x":1375,"y":-1.5},{"x":1385,"y":1.5},{"x":1395,"y":-1.5},{"x":1405,"y":1.5},{"x":1415,"y":-1},{"x":1425,"y":0},{"x":1460,"y":0.4},{"x":1470,"y":-0.4},{"x":1480,"y":0},{"x":1520,"y":0.6},{"x":1530,"y":-0.8},{"x":1540,"y":1},{"x":1550,"y":-1.5},{"x":1560,"y":1.2},{"x":1570,"y":-0.6},{"x":1580,"y":0},{"x":1600,"y":1},{"x":1608,"y":-1},{"x":1616,"y":0.6},{"x":1625,"y":0},{"x":1680,"y":0.4},{"x":1690,"y":-0.4},{"x":1700,"y":0},{"x":1740,"y":0.3},{"x":1750,"y":-0.3},{"x":1760,"y":0},{"x":1800,"y":0.4},{"x":1810,"y":-0.4},{"x":1820,"y":0},{"x":1860,"y":0.4},{"x":1870,"y":-0.4},{"x":1880,"y":0},{"x":1920,"y":0.3},{"x":1930,"y":-0.3},{"x":1940,"y":0},{"x":1980,"y":0.4},{"x":1990,"y":-0.4},{"x":2000,"y":0},{"x":2040,"y":0.3},{"x":2047,"y":0}],
"R3": [{"x":0,"y":-2},{"x":10,"y":1},{"x":20,"y":-1},{"x":30,"y":0},{"x":60,"y":0.5},{"x":80,"y":-0.5},{"x":100,"y":0},{"x":140,"y":0.8},{"x":160,"y":-0.5},{"x":180,"y":0},{"x":220,"y":0.5},{"x":240,"y":-0.5},{"x":260,"y":0},{"x":290,"y":1},{"x":305,"y":-0.8},{"x":320,"y":0.5},{"x":340,"y":-0.5},{"x":360,"y":0.8},{"x":375,"y":-0.8},{"x":390,"y":0.5},{"x":405,"y":-1},{"x":420,"y":0.8},{"x":435,"y":-0.5},{"x":450,"y":1},{"x":465,"y":-1.5},{"x":480,"y":1},{"x":495,"y":-0.5},{"x":510,"y":1.5},{"x":520,"y":-2},{"x":530,"y":1},{"x":545,"y":-1},{"x":555,"y":3},{"x":565,"y":-4},{"x":575,"y":3},{"x":585,"y":-3},{"x":595,"y":4},{"x":605,"y":-3},{"x":615,"y":2.5},{"x":625,"y":-3.5},{"x":635,"y":3},{"x":645,"y":-2.5},{"x":655,"y":3},{"x":665,"y":-2},{"x":675,"y":2.5},{"x":685,"y":-3},{"x":695,"y":2},{"x":705,"y":-2.5},{"x":715,"y":2},{"x":725,"y":-3},{"x":735,"y":3},{"x":745,"y":-2.5},{"x":755,"y":2},{"x":765,"y":-3},{"x":775,"y":2.5},{"x":785,"y":-2},{"x":795,"y":3},{"x":805,"y":-2},{"x":815,"y":2},{"x":825,"y":-1.5},{"x":840,"y":1},{"x":855,"y":-1},{"x":870,"y":1.5},{"x":885,"y":-1},{"x":900,"y":1.5},{"x":915,"y":-2},{"x":930,"y":1.5},{"x":945,"y":-1.5},{"x":960,"y":1},{"x":975,"y":-1.5},{"x":990,"y":2},{"x":1000,"y":-1.5},{"x":1010,"y":1.5},{"x":1020,"y":-2},{"x":1030,"y":1},{"x":1045,"y":-1.5},{"x":1060,"y":1.5},{"x":1075,"y":-1},{"x":1090,"y":1.5},{"x":1105,"y":-2},{"x":1120,"y":2.5},{"x":1135,"y":-3},{"x":1150,"y":3.5},{"x":1160,"y":-4},{"x":1168,"y":6},{"x":1176,"y":-9},{"x":1184,"y":7},{"x":1192,"y":-5},{"x":1200,"y":4},{"x":1210,"y":-4},{"x":1220,"y":3.5},{"x":1230,"y":-2.5},{"x":1240,"y":3},{"x":1250,"y":-2},{"x":1262,"y":2.5},{"x":1274,"y":-2},{"x":1286,"y":2},{"x":1298,"y":-1.5},{"x":1310,"y":1.5},{"x":1322,"y":-1.5},{"x":1334,"y":2},{"x":1346,"y":-1.5},{"x":1358,"y":1},{"x":1370,"y":-1},{"x":1385,"y":0.5},{"x":1400,"y":0},{"x":1420,"y":0.8},{"x":1435,"y":-0.8},{"x":1450,"y":0.5},{"x":1465,"y":0},{"x":1490,"y":1.5},{"x":1500,"y":-1.5},{"x":1510,"y":1.5},{"x":1520,"y":-1},{"x":1530,"y":0},{"x":1560,"y":1},{"x":1575,"y":-1},{"x":1590,"y":1.5},{"x":1600,"y":-3},{"x":1610,"y":2.5},{"x":1620,"y":-1.5},{"x":1630,"y":1},{"x":1645,"y":-0.5},{"x":1660,"y":0},{"x":1700,"y":0.5},{"x":1720,"y":-0.5},{"x":1740,"y":0},{"x":1780,"y":0.5},{"x":1800,"y":-0.5},{"x":1820,"y":0},{"x":1860,"y":0.8},{"x":1875,"y":-1},{"x":1890,"y":1},{"x":1905,"y":-0.5},{"x":1920,"y":0},{"x":1960,"y":0.5},{"x":1980,"y":-0.5},{"x":2000,"y":0},{"x":2030,"y":0.8},{"x":2047,"y":0}],
"R4": [{"x":0,"y":-1},{"x":8,"y":2},{"x":20,"y":0},{"x":50,"y":0.5},{"x":80,"y":-0.5},{"x":110,"y":0.5},{"x":140,"y":-0.5},{"x":170,"y":0.3},{"x":200,"y":0},{"x":230,"y":0.5},{"x":260,"y":-0.5},{"x":290,"y":0.3},{"x":320,"y":-0.3},{"x":350,"y":0.5},{"x":380,"y":0},{"x":410,"y":-0.5},{"x":440,"y":0.5},{"x":470,"y":-0.3},{"x":500,"y":0.5},{"x":520,"y":-1},{"x":540,"y":1},{"x":560,"y":-0.5},{"x":580,"y":1.5},{"x":600,"y":-1},{"x":620,"y":0.5},{"x":640,"y":-0.5},{"x":660,"y":0.5},{"x":680,"y":-0.3},{"x":700,"y":0.5},{"x":720,"y":-1},{"x":740,"y":1.5},{"x":760,"y":-1.5},{"x":780,"y":2},{"x":800,"y":-0.5},{"x":820,"y":1},{"x":840,"y":-1},{"x":860,"y":0.5},{"x":880,"y":-1},{"x":900,"y":1.5},{"x":920,"y":-2},{"x":935,"y":2.5},{"x":950,"y":-1},{"x":965,"y":1.5},{"x":980,"y":-2.5},{"x":995,"y":2},{"x":1010,"y":-1},{"x":1025,"y":3},{"x":1040,"y":-2},{"x":1055,"y":2.5},{"x":1070,"y":-1},{"x":1085,"y":2},{"x":1100,"y":-1},{"x":1115,"y":1.5},{"x":1130,"y":-2},{"x":1145,"y":3},{"x":1160,"y":-3.5},{"x":1175,"y":4},{"x":1190,"y":-3},{"x":1205,"y":3.5},{"x":1220,"y":-2},{"x":1235,"y":2.5},{"x":1250,"y":-1.5},{"x":1265,"y":1.5},{"x":1280,"y":-1},{"x":1300,"y":1},{"x":1320,"y":-0.5},{"x":1345,"y":0.5},{"x":1370,"y":-0.5},{"x":1400,"y":0.3},{"x":1430,"y":-0.5},{"x":1460,"y":0.5},{"x":1490,"y":-0.3},{"x":1520,"y":1},{"x":1535,"y":-1.5},{"x":1550,"y":1.5},{"x":1565,"y":-0.5},{"x":1590,"y":0.5},{"x":1620,"y":-0.5},{"x":1650,"y":0.5},{"x":1680,"y":-0.3},{"x":1710,"y":0.3},{"x":1740,"y":-0.5},{"x":1770,"y":0.5},{"x":1800,"y":-0.3},{"x":1830,"y":0.5},{"x":1850,"y":-1},{"x":1865,"y":1.5},{"x":1880,"y":-1},{"x":1900,"y":0.8},{"x":1930,"y":-0.5},{"x":1960,"y":0.5},{"x":1990,"y":-0.3},{"x":2020,"y":0.3},{"x":2035,"y":-1.5},{"x":2047,"y":0.5}],
"R5": [{"x":0,"y":2.3},{"x":15,"y":-2.3},{"x":45,"y":0},{"x":81,"y":3},{"x":110,"y":0.5},{"x":147,"y":0},{"x":180,"y":0.8},{"x":214,"y":0},{"x":240,"y":3},{"x":280,"y":-2.3},{"x":319,"y":0},{"x":359,"y":2.3},{"x":399,"y":-2.3},{"x":439,"y":-2.3},{"x":470,"y":1},{"x":492,"y":8},{"x":505,"y":3},{"x":518,"y":-1.5},{"x":545,"y":-4.6},{"x":571,"y":4.3},{"x":598,"y":-2.3},{"x":624,"y":0},{"x":650,"y":1},{"x":677,"y":0},{"x":700,"y":1},{"x":730,"y":-1},{"x":760,"y":1.5},{"x":790,"y":-1},{"x":823,"y":0},{"x":863,"y":3},{"x":903,"y":-0.8},{"x":929,"y":6},{"x":955,"y":0.4},{"x":975,"y":-1},{"x":995,"y":2.3},{"x":1022,"y":7},{"x":1049,"y":-1.5},{"x":1088,"y":0},{"x":1120,"y":1.5},{"x":1154,"y":1.5},{"x":1190,"y":-1},{"x":1221,"y":-0.8},{"x":1260,"y":1},{"x":1300,"y":0},{"x":1353,"y":0},{"x":1390,"y":1},{"x":1420,"y":1.5},{"x":1486,"y":2.3},{"x":1499,"y":8},{"x":1526,"y":-1.5},{"x":1566,"y":4.3},{"x":1590,"y":0},{"x":1619,"y":0},{"x":1650,"y":1.5},{"x":1685,"y":1.5},{"x":1720,"y":-0.5},{"x":1751,"y":0},{"x":1790,"y":1.5},{"x":1817,"y":2.3},{"x":1850,"y":-1},{"x":1884,"y":-0.8},{"x":1920,"y":1},{"x":1950,"y":5.4},{"x":1977,"y":0},{"x":2016,"y":-1.5},{"x":2047,"y":2.3}],
"R6": [{"x":0,"y":2.3},{"x":15,"y":-1.2},{"x":41,"y":-1.9},{"x":81,"y":0},{"x":147,"y":0},{"x":214,"y":0.8},{"x":280,"y":1.2},{"x":346,"y":0.4},{"x":412,"y":1.2},{"x":439,"y":-3.9},{"x":492,"y":6.6},{"x":518,"y":1.9},{"x":558,"y":-8.9},{"x":585,"y":-1.9},{"x":651,"y":10.5},{"x":704,"y":10.5},{"x":757,"y":0},{"x":797,"y":-10.5},{"x":823,"y":-1.9},{"x":850,"y":9.7},{"x":876,"y":10.5},{"x":903,"y":9.7},{"x":955,"y":-1.9},{"x":1035,"y":-7.8},{"x":1154,"y":0},{"x":1194,"y":3.9},{"x":1261,"y":-1.9},{"x":1327,"y":1.9},{"x":1380,"y":-3.9},{"x":1433,"y":1.9},{"x":1512,"y":0},{"x":1591,"y":1.9},{"x":1645,"y":-1.9},{"x":1698,"y":5.8},{"x":1751,"y":-3.9},{"x":1804,"y":1.9},{"x":1884,"y":1.9},{"x":1950,"y":0},{"x":2016,"y":-3.9},{"x":2047,"y":-1.9}],
"R7": [{"x":0,"y":-0.8},{"x":147,"y":0.4},{"x":200,"y":-0.8},{"x":280,"y":3},{"x":373,"y":-3.5},{"x":479,"y":5.8},{"x":545,"y":-1.9},{"x":638,"y":-11},{"x":704,"y":-6.5},{"x":810,"y":6.9},{"x":876,"y":10.8},{"x":903,"y":10.8},{"x":982,"y":1.2},{"x":1062,"y":-11},{"x":1128,"y":-8.5},{"x":1221,"y":1.2},{"x":1300,"y":7.7},{"x":1353,"y":5.8},{"x":1446,"y":-7.3},{"x":1486,"y":-5.8},{"x":1579,"y":6.9},{"x":1619,"y":5},{"x":1685,"y":-4.6},{"x":1751,"y":-0.8},{"x":1884,"y":-1.9},{"x":1950,"y":1.2},{"x":2047,"y":-0.8}],
"R8": [{"x":0,"y":-10.5},{"x":81,"y":-8.4},{"x":187,"y":2.1},{"x":319,"y":12.6},{"x":386,"y":10.5},{"x":479,"y":-1.4},{"x":571,"y":-10.5},{"x":677,"y":-10.5},{"x":783,"y":0},{"x":876,"y":10.5},{"x":943,"y":12.6},{"x":1049,"y":7.7},{"x":1120,"y":0},{"x":1194,"y":-6.3},{"x":1380,"y":-6.3},{"x":1459,"y":5.6},{"x":1512,"y":7.7},{"x":1619,"y":3.5},{"x":1698,"y":-4.9},{"x":1751,"y":-4.9},{"x":1884,"y":2.1},{"x":2047,"y":5.6}],
"R9": [{"x":0,"y":-8.5},{"x":147,"y":-8.5},{"x":187,"y":-11.5},{"x":439,"y":-11.5},{"x":465,"y":-8.5},{"x":704,"y":-8.5},{"x":810,"y":-4.6},{"x":916,"y":-2.5},{"x":955,"y":-1.2},{"x":1088,"y":2.7},{"x":1221,"y":8.8},{"x":1327,"y":11.5},{"x":1512,"y":11.5},{"x":1619,"y":6.5},{"x":1751,"y":-1.2},{"x":1910,"y":-7.7},{"x":2047,"y":-7.7}],
"R10": [{"x":0,"y":0.8},{"x":250,"y":1.0},{"x":300,"y":1.3},{"x":600,"y":1.5},{"x":650,"y":1.8},{"x":900,"y":2.0},{"x":950,"y":2.4},{"x":1150,"y":2.6},{"x":1200,"y":3.2},{"x":1300,"y":3.5},{"x":1450,"y":3.7},{"x":1500,"y":4.0},{"x":2047,"y":4.0}]
},
"spacing": 70,
"hconcat": [
{
"title": {"text": "CEEMDAN", "anchor": "middle", "dx": -48, "offset": 19},
"spacing": 22,
"bounds": "flush",
"vconcat": [
{"height":20,"data":{"name":"EEG"},"mark":"line","encoding":{"x":{"field":"x","type":"quantitative","scale":{"domain":[0,2048],"nice":false,"zero":false},"axis":null},"y":{"field":"y","type":"quantitative","scale":{"domain":[-22,22],"nice":false},"axis":{"title":"EEG","values":[-20,0,20]}}}},
{"height":20,"data":{"name":"L1"},"mark":"line","encoding":{"x":{"field":"x","type":"quantitative","scale":{"domain":[0,2048],"nice":false,"zero":false},"axis":null},"y":{"field":"y","type":"quantitative","scale":{"domain":[-6,6],"nice":false},"axis":{"title":"IMF 1","values":[-5,0,5]}}}},
{"height":20,"data":{"name":"L2"},"mark":"line","encoding":{"x":{"field":"x","type":"quantitative","scale":{"domain":[0,2048],"nice":false,"zero":false},"axis":null},"y":{"field":"y","type":"quantitative","scale":{"domain":[-2.5,2.5],"nice":false},"axis":{"title":"IMF 2","values":[-2,0,2]}}}},
{"height":20,"data":{"name":"L3"},"mark":"line","encoding":{"x":{"field":"x","type":"quantitative","scale":{"domain":[0,2048],"nice":false,"zero":false},"axis":null},"y":{"field":"y","type":"quantitative","scale":{"domain":[-6,6],"nice":false},"axis":{"title":"IMF 3","values":[-5,0,5]}}}},
{"height":20,"data":{"name":"L4"},"mark":"line","encoding":{"x":{"field":"x","type":"quantitative","scale":{"domain":[0,2048],"nice":false,"zero":false},"axis":null},"y":{"field":"y","type":"quantitative","scale":{"domain":[-12,12],"nice":false},"axis":{"title":"IMF 4","values":[-10,0,10]}}}},
{"height":20,"data":{"name":"L5"},"mark":"line","encoding":{"x":{"field":"x","type":"quantitative","scale":{"domain":[0,2048],"nice":false,"zero":false},"axis":null},"y":{"field":"y","type":"quantitative","scale":{"domain":[-12,12],"nice":false},"axis":{"title":"IMF 5","values":[-10,0,10]}}}},
{"height":20,"data":{"name":"L6"},"mark":"line","encoding":{"x":{"field":"x","type":"quantitative","scale":{"domain":[0,2048],"nice":false,"zero":false},"axis":null},"y":{"field":"y","type":"quantitative","scale":{"domain":[-6,6],"nice":false},"axis":{"title":"IMF 6","values":[-5,0,5]}}}},
{"height":20,"data":{"name":"L7"},"mark":"line","encoding":{"x":{"field":"x","type":"quantitative","scale":{"domain":[0,2048],"nice":false,"zero":false},"axis":null},"y":{"field":"y","type":"quantitative","scale":{"domain":[-12,12],"nice":false},"axis":{"title":"IMF 7","values":[-10,0,10]}}}},
{"height":20,"data":{"name":"L8"},"mark":"line","encoding":{"x":{"field":"x","type":"quantitative","scale":{"domain":[0,2048],"nice":false,"zero":false},"axis":null},"y":{"field":"y","type":"quantitative","scale":{"domain":[-12,12],"nice":false},"axis":{"title":"IMF 8","values":[-10,0,10]}}}},
{"height":20,"data":{"name":"L9"},"mark":"line","encoding":{"x":{"field":"x","type":"quantitative","scale":{"domain":[0,2048],"nice":false,"zero":false},"axis":null},"y":{"field":"y","type":"quantitative","scale":{"domain":[-22,22],"nice":false},"axis":{"title":"IMF 9","values":[-20,0,20]}}}},
{"height":20,"data":{"name":"L10"},"mark":"line","encoding":{"x":{"field":"x","type":"quantitative","scale":{"domain":[0,2048],"nice":false,"zero":false},"axis":null},"y":{"field":"y","type":"quantitative","scale":{"domain":[-12,12],"nice":false},"axis":{"title":"IMF 10","values":[-10,0,10]}}}},
{"height":20,"data":{"name":"L11"},"mark":"line","encoding":{"x":{"field":"x","type":"quantitative","scale":{"domain":[0,2048],"nice":false,"zero":false},"axis":null},"y":{"field":"y","type":"quantitative","scale":{"domain":[-12,12],"nice":false},"axis":{"title":"IMF 11","values":[-10,0,10]}}}},
{"height":20,"data":{"name":"L12"},
 "layer":[
  {"mark":"line","encoding":{"x":{"field":"x","type":"quantitative","scale":{"domain":[0,2048],"nice":false,"zero":false},"axis":{"orient":"bottom","values":[200,400,600,800,1000,1200,1400,1600,1800,2000],"title":"Time(Samples)","tickSize":-5,"labelPadding":8,"titlePadding":31}},"y":{"field":"y","type":"quantitative","scale":{"domain":[-12,12],"nice":false},"axis":{"title":"IMF 12","values":[-10,0,10]}}}},
  {"mark":{"type":"line","opacity":0},"encoding":{"x":{"field":"x","type":"quantitative","axis":{"orient":"top","values":[200,400,600,800,1000,1200,1400,1600,1800,2000],"labels":false,"title":null,"tickSize":-5}},"y":{"field":"y","type":"quantitative","axis":{"title":"IMF 12","values":[-10,0,10]}}}}
 ],
 "resolve":{"axis":{"x":"independent"}}
}
]
},
{
"title": {"text": "ICEEMDAN", "anchor": "middle", "dx": -45, "offset": 19},
"spacing": 15.4,
"bounds": "flush",
"vconcat": [
{"height":21,"data":{"name":"EEG"},"mark":"line","encoding":{"x":{"field":"x","type":"quantitative","scale":{"domain":[0,2048],"nice":false,"zero":false},"axis":null},"y":{"field":"y","type":"quantitative","scale":{"domain":[-22,22],"nice":false},"axis":{"title":"EEG","values":[-20,0,20]}}}},
{"height":21,"data":{"name":"R1"},"mark":"line","encoding":{"x":{"field":"x","type":"quantitative","scale":{"domain":[0,2048],"nice":false,"zero":false},"axis":null},"y":{"field":"y","type":"quantitative","scale":{"domain":[-6,6],"nice":false},"axis":{"title":"IMF 1","values":[-5,0,5]}}}},
{"height":21,"data":{"name":"R2"},"mark":"line","encoding":{"x":{"field":"x","type":"quantitative","scale":{"domain":[0,2048],"nice":false,"zero":false},"axis":null},"y":{"field":"y","type":"quantitative","scale":{"domain":[-6,6],"nice":false},"axis":{"title":"IMF 2","values":[-5,0,5]}}}},
{"height":21,"data":{"name":"R3"},"mark":"line","encoding":{"x":{"field":"x","type":"quantitative","scale":{"domain":[0,2048],"nice":false,"zero":false},"axis":null},"y":{"field":"y","type":"quantitative","scale":{"domain":[-12,12],"nice":false},"axis":{"title":"IMF 3","values":[-10,0,10]}}}},
{"height":21,"data":{"name":"R4"},"mark":"line","encoding":{"x":{"field":"x","type":"quantitative","scale":{"domain":[0,2048],"nice":false,"zero":false},"axis":null},"y":{"field":"y","type":"quantitative","scale":{"domain":[-12,12],"nice":false},"axis":{"title":"IMF 4","values":[-10,0,10]}}}},
{"height":21,"data":{"name":"R5"},"mark":"line","encoding":{"x":{"field":"x","type":"quantitative","scale":{"domain":[0,2048],"nice":false,"zero":false},"axis":null},"y":{"field":"y","type":"quantitative","scale":{"domain":[-12,12],"nice":false},"axis":{"title":"IMF 5","values":[-10,0,10]}}}},
{"height":21,"data":{"name":"R6"},"mark":"line","encoding":{"x":{"field":"x","type":"quantitative","scale":{"domain":[0,2048],"nice":false,"zero":false},"axis":null},"y":{"field":"y","type":"quantitative","scale":{"domain":[-12,12],"nice":false},"axis":{"title":"IMF 6","values":[-10,0,10]}}}},
{"height":21,"data":{"name":"R7"},"mark":"line","encoding":{"x":{"field":"x","type":"quantitative","scale":{"domain":[0,2048],"nice":false,"zero":false},"axis":null},"y":{"field":"y","type":"quantitative","scale":{"domain":[-12,12],"nice":false},"axis":{"title":"IMF 7","values":[-10,0,10]}}}},
{"height":21,"data":{"name":"R8"},"mark":"line","encoding":{"x":{"field":"x","type":"quantitative","scale":{"domain":[0,2048],"nice":false,"zero":false},"axis":null},"y":{"field":"y","type":"quantitative","scale":{"domain":[-22,22],"nice":false},"axis":{"title":"IMF 8","values":[-20,0,20]}}}},
{"height":21,"data":{"name":"R9"},"mark":"line","encoding":{"x":{"field":"x","type":"quantitative","scale":{"domain":[0,2048],"nice":false,"zero":false},"axis":null},"y":{"field":"y","type":"quantitative","scale":{"domain":[-12,12],"nice":false},"axis":{"title":"IMF 9","values":[-10,0,10]}}}},
{"height":21,"data":{"name":"R10"},
 "layer":[
  {"mark":"line","encoding":{"x":{"field":"x","type":"quantitative","scale":{"domain":[0,2048],"nice":false,"zero":false},"axis":{"orient":"bottom","values":[200,400,600,800,1000,1200,1400,1600,1800,2000],"title":"Time(Samples)","tickSize":-5,"labelPadding":4,"titlePadding":25}},"y":{"field":"y","type":"quantitative","scale":{"domain":[-0.3,4.3],"nice":false},"axis":{"title":"IMF 10","values":[0,2,4]}}}},
  {"mark":{"type":"line","opacity":0},"encoding":{"x":{"field":"x","type":"quantitative","axis":{"orient":"top","values":[200,400,600,800,1000,1200,1400,1600,1800,2000],"labels":false,"title":null,"tickSize":-5}},"y":{"field":"y","type":"quantitative","axis":{"title":"IMF 10","values":[0,2,4]}}}}
 ],
 "resolve":{"axis":{"x":"independent"}}
}
]
}
]
}
